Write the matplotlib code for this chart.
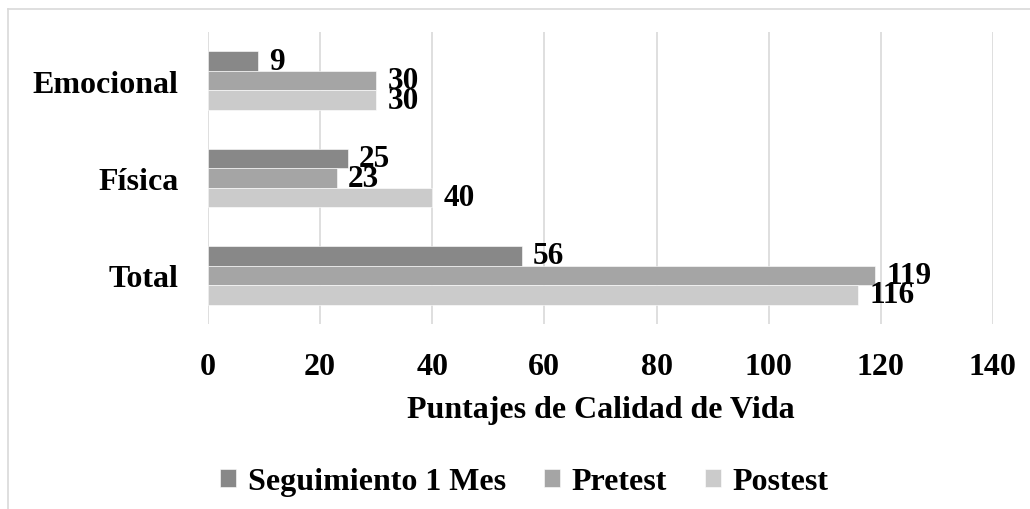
import matplotlib
matplotlib.use("Agg")
import matplotlib.pyplot as plt
from matplotlib.lines import Line2D
import numpy as np

# Data
categories = ["Total", "Física", "Emocional"]
series_names = ["Seguimiento 1 Mes", "Pretest", "Postest"]
seguimiento = [56, 25, 9]
pretest = [119, 23, 30]
postest = [116, 40, 30]
series_values = [seguimiento, pretest, postest]
colors = ["#888888", "#a5a5a5", "#cbcbcb"]
xticks = [0, 20, 40, 60, 80, 100, 120, 140]

plt.rcParams["font.family"] = ["Liberation Serif", "DejaVu Serif"]
plt.rcParams["font.weight"] = "bold"
FS = 23

fig = plt.figure(figsize=(10.30, 5.10), dpi=100)
ax = fig.add_axes([0.2019, 0.3627, 0.964 - 0.2019, 0.9353 - 0.3627])

y = np.arange(len(categories))
bar_h = 0.2
offsets = [bar_h, 0.0, -bar_h]

for vals, off, col, name in zip(series_values, offsets, colors, series_names):
    bars = ax.barh(y + off, vals, height=bar_h, color=col, label=name,
                   edgecolor="white", linewidth=0.4, zorder=3)
    for rect, v in zip(bars, vals):
        ax.annotate(str(v),
                    xy=(rect.get_width(), rect.get_y() + rect.get_height() / 2),
                    xytext=(8, 0), textcoords="offset points",
                    ha="left", va="center", fontsize=FS - 0.5, fontweight="bold",
                    color="black", zorder=4)

ax.set_xlim(0, 140)
ax.set_ylim(-0.5, 2.5)
ax.set_xticks(xticks)
ax.set_xticklabels([str(t) for t in xticks])
ax.set_yticks(y)
ax.set_yticklabels(categories)
ax.tick_params(axis="both", length=0, labelsize=FS)
ax.tick_params(axis="x", pad=20)
ax.tick_params(axis="y", pad=21)
for lbl in ax.get_xticklabels() + ax.get_yticklabels():
    lbl.set_fontweight("bold")

ax.grid(axis="x", color="#d9d9d9", linewidth=1.2, zorder=0)
for s in ax.spines.values():
    s.set_visible(False)

ax.set_xlabel("Puntajes de Calidad de Vida", fontsize=FS, fontweight="bold",
              labelpad=10)

leg = fig.legend(loc="center", bbox_to_anchor=(0.509, 0.053), ncol=3,
                 frameon=False, fontsize=FS, handlelength=0.5,
                 handleheight=0.5, handletextpad=0.35, columnspacing=1.2)
for t in leg.get_texts():
    t.set_fontweight("bold")

# Outer chart frame
fig.add_artist(Line2D([7.5 / 1030, 7.5 / 1030], [0, 1 - 9.5 / 510],
                      transform=fig.transFigure, color="#d9d9d9", linewidth=1.2))
fig.add_artist(Line2D([7.5 / 1030, 1], [1 - 9.5 / 510, 1 - 9.5 / 510],
                      transform=fig.transFigure, color="#d9d9d9", linewidth=1.2))

fig.savefig("out.png", dpi=100, facecolor="white")
